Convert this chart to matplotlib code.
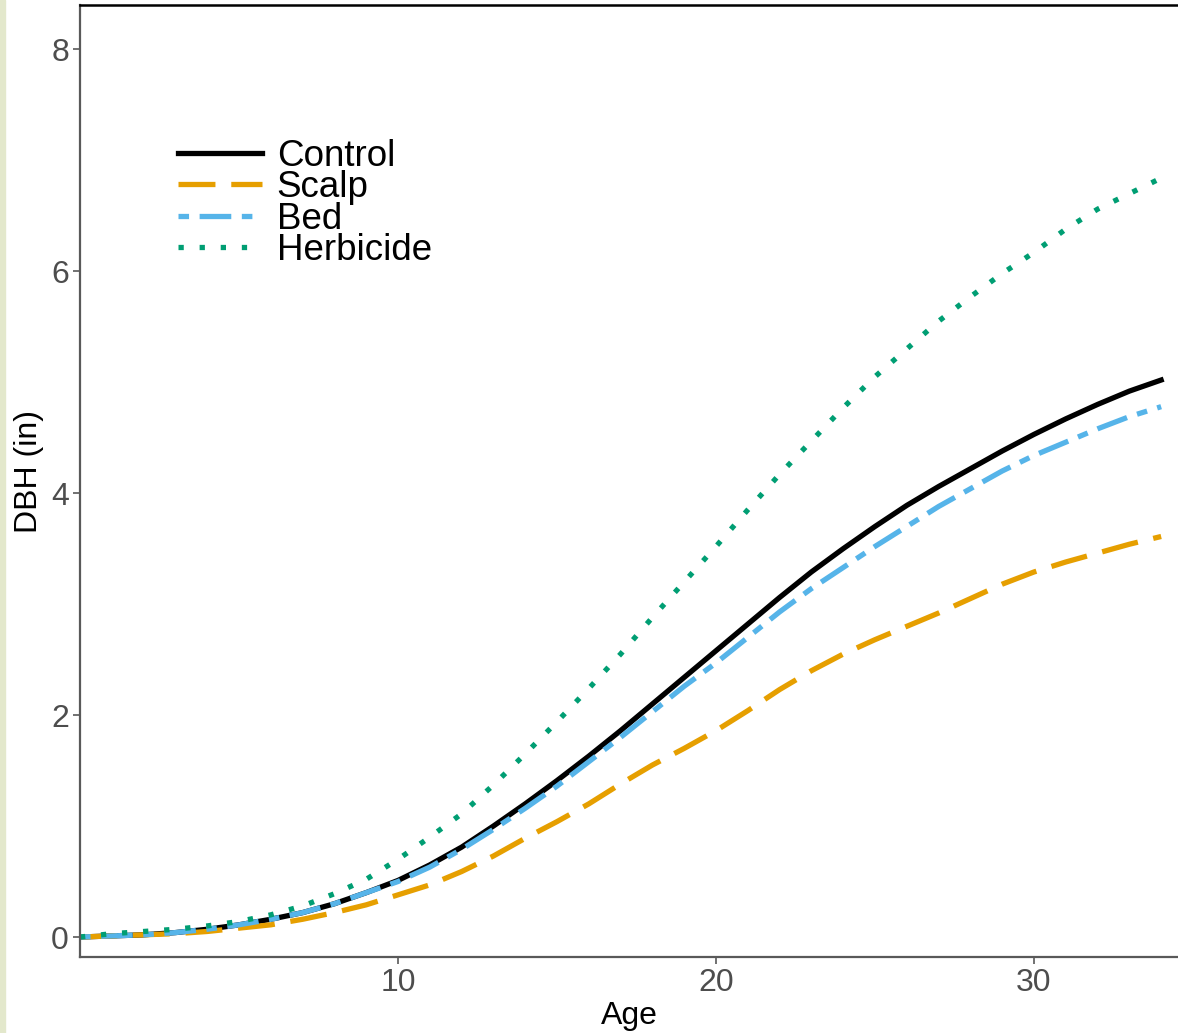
import matplotlib
matplotlib.use("Agg")
import matplotlib.pyplot as plt
from matplotlib.patches import Rectangle

plt.rcParams['font.family'] = ['Liberation Sans', 'DejaVu Sans']

age = list(range(0, 35))

control = [0.0, 0.01, 0.02, 0.04, 0.07, 0.11, 0.16, 0.22, 0.30, 0.40,
           0.51, 0.65, 0.81, 1.00, 1.20, 1.41, 1.63, 1.86, 2.10, 2.34,
           2.58, 2.82, 3.06, 3.29, 3.50, 3.70, 3.89, 4.06, 4.22, 4.38,
           4.53, 4.67, 4.80, 4.92, 5.02]
scalp = [0.0, 0.01, 0.02, 0.03, 0.05, 0.08, 0.11, 0.16, 0.22, 0.29,
         0.38, 0.47, 0.59, 0.73, 0.89, 1.04, 1.20, 1.38, 1.55, 1.70,
         1.86, 2.04, 2.23, 2.40, 2.55, 2.68, 2.80, 2.92, 3.05, 3.18,
         3.29, 3.38, 3.46, 3.54, 3.61]
bed = [0.0, 0.01, 0.02, 0.04, 0.07, 0.11, 0.16, 0.22, 0.30, 0.40,
       0.50, 0.63, 0.79, 0.97, 1.16, 1.36, 1.58, 1.80, 2.03, 2.26,
       2.47, 2.70, 2.93, 3.14, 3.33, 3.52, 3.70, 3.88, 4.04, 4.20,
       4.34, 4.46, 4.58, 4.69, 4.78]
herbicide = [0.0, 0.03, 0.05, 0.07, 0.10, 0.14, 0.20, 0.28, 0.39, 0.52,
             0.70, 0.90, 1.11, 1.37, 1.65, 1.94, 2.24, 2.55, 2.88, 3.20,
             3.52, 3.85, 4.17, 4.47, 4.77, 5.05, 5.30, 5.55, 5.77, 5.98,
             6.17, 6.38, 6.56, 6.70, 6.84]

fig = plt.figure(figsize=(11.78, 10.33), dpi=100)
ax = fig.add_axes([80/1178, 76/1033, 1 - 80/1178, (957-5)/1033])

lw = 3.8
ax.plot(age, control, color='black', lw=lw, label='Control')
ax.plot(age, scalp, color='#E69F00', lw=lw, linestyle=(0, (7, 3)), dash_capstyle='butt', label='Scalp')
ax.plot(age, bed, color='#56B4E9', lw=lw, linestyle=(0, (2, 2, 6, 2)), dash_capstyle='butt', label='Bed')
ax.plot(age, herbicide, color='#009E73', lw=lw, linestyle=(0, (1, 3)), dash_capstyle='butt', label='Herbicide')

ax.set_xlim(0, 34.53)
ax.set_ylim(-0.18, 8.40)
ax.set_xticks([10, 20, 30])
ax.set_yticks([0, 2, 4, 6, 8])

for s in ['left', 'bottom']:
    ax.spines[s].set_color('#595959')
    ax.spines[s].set_linewidth(1.6)
ax.spines['right'].set_visible(False)
ax.spines['top'].set_color('black')
ax.spines['top'].set_linewidth(1.8)

ax.tick_params(axis='both', colors='#595959', length=5, width=1.2,
               labelsize=23, labelcolor='#4D4D4D', pad=3)

ax.set_xlabel('Age', fontsize=23, color='black', labelpad=2)
ax.set_ylabel('DBH (in)', fontsize=23, color='black')
ax.yaxis.set_label_coords(-36/1098, 0.51)

leg = ax.legend(loc='upper left', bbox_to_anchor=(178/1178, 1 - 139/1033),
                bbox_transform=fig.transFigure, frameon=False, fontsize=26.5,
                handlelength=2.27, handletextpad=0.41, labelspacing=-0.1,
                borderpad=0, borderaxespad=0)

# beige strip at the left edge
fig.patches.append(Rectangle((0, 0), 5/1178, 1, transform=fig.transFigure,
                             color='#E3E8CC', zorder=0))

fig.savefig('out.png', dpi=100)
